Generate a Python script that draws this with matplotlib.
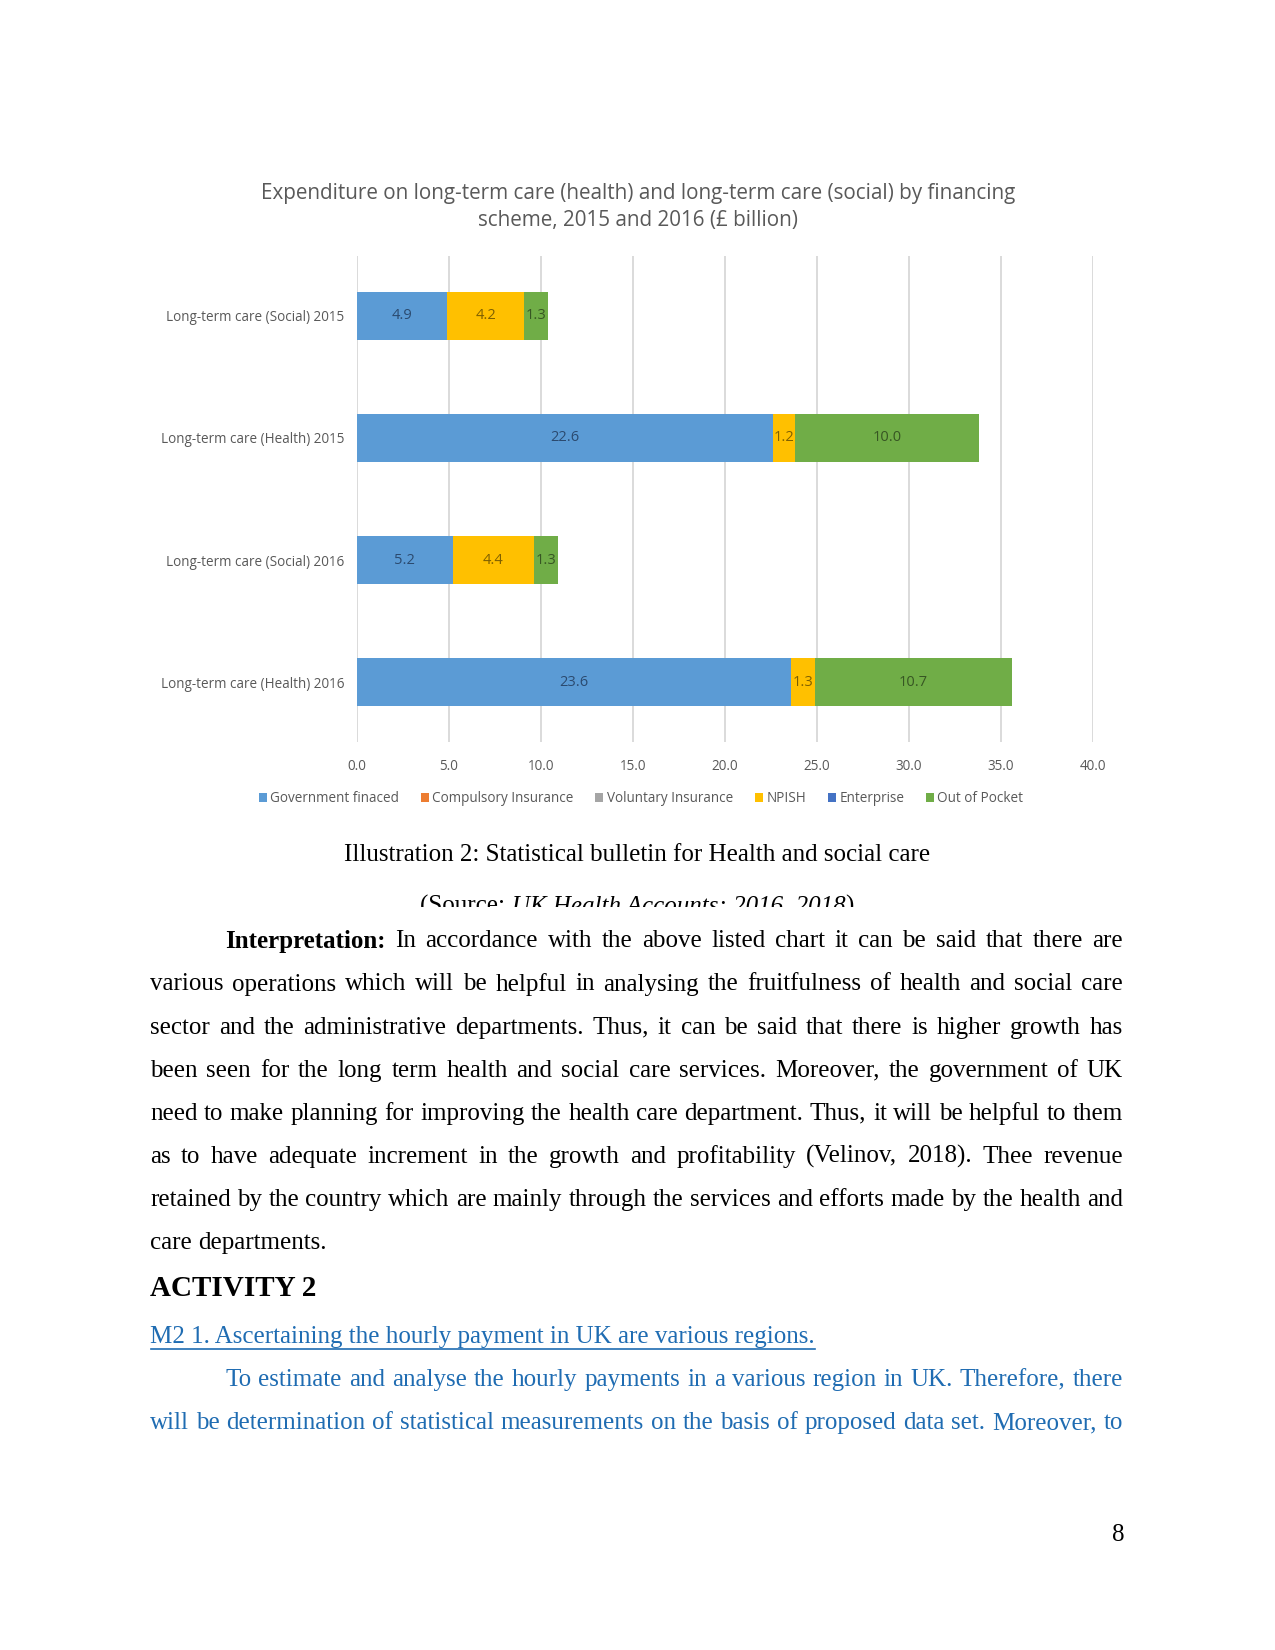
import numpy as np
import matplotlib.pyplot as plt
from matplotlib.patches import Patch
from matplotlib.lines import Line2D
from matplotlib.transforms import Bbox

# page size in pixels
W, H = 1275, 1650
DPI = 150

# chart data (£ billion)
categories = ['Long-term care (Social) 2015', 'Long-term care (Health) 2015',
              'Long-term care (Social) 2016', 'Long-term care (Health) 2016']
series = ['Government finaced', 'Compulsory Insurance', 'Voluntary Insurance',
          'NPISH', 'Enterprise', 'Out of Pocket']
government = [4.9, 22.6, 5.2, 23.6]
compulsory = [0, 0, 0, 0]
voluntary = [0, 0, 0, 0]
npish = [4.2, 1.2, 4.4, 1.3]
enterprise = [0, 0, 0, 0]
out_of_pocket = [1.3, 10.0, 1.3, 10.7]
xticks = [0, 5, 10, 15, 20, 25, 30, 35, 40]

colors = ['#5B9BD5', '#ED7D31', '#A5A5A5', '#FFC000', '#4472C4', '#70AD47']
label_colors = ['#2B4A6F', '#843C0C', '#525252', '#7F6000', '#203864', '#375623']

title = ('Expenditure on long-term care (health) and long-term care (social) by financing\n'
         'scheme, 2015 and 2016 (£ billion)')

para1 = [
    'Interpretation: In accordance with the above listed chart it can be said that there are',
    'various operations which will be helpful in analysing the fruitfulness of health and social care',
    'sector and the administrative departments. Thus, it can be said that there is higher growth has',
    'been seen for the long term health and social care services. Moreover, the government of UK',
    'need to make planning for improving the health care department. Thus, it will be helpful to them',
    'as to have adequate increment in the growth and profitability (Velinov, 2018). Thee revenue',
    'retained by the country which are mainly through the services and efforts made by the health and',
    'care departments.',
]
para2 = [
    'To estimate and analyse the hourly payments in a various region in UK. Therefore, there',
    'will be determination of statistical measurements on the basis of proposed data set. Moreover, to',
]

fig = plt.figure(figsize=(W / DPI, H / DPI), dpi=DPI)
renderer = fig.canvas.get_renderer()
serif = 'Liberation Serif'
sans = 'Open Sans'
blue_text = '#1F6CB2'
DY = 3  # small nudge so serif lines sit like the page


def put(x, y, s, **kw):
    # place text with pixel coords measured from the top-left of the page
    return fig.text(x / W, 1 - y / H, s, **kw)


def width_of(s, **kw):
    t = fig.text(0, 0, s, **kw)
    w = t.get_window_extent(renderer).width
    t.remove()
    return w


def draw_line(words, x0, x1, y, justify, color='black', size=12):
    widths = [width_of(w, family=serif, size=size, weight=fw) for w, fw in words]
    if justify and len(words) > 1:
        gap = (x1 - x0 - sum(widths)) / (len(words) - 1)
    else:
        gap = width_of('a a', family=serif, size=size) - width_of('aa', family=serif, size=size)
    x = x0
    for (w, fw), wd in zip(words, widths):
        put(x, y, w, family=serif, size=size, weight=fw, color=color, ha='left', va='center')
        x += wd + gap


def draw_paragraph(lines, y0, step, color='black', bold_first=False):
    for i, line in enumerate(lines):
        words = [(w, 'normal') for w in line.split()]
        if i == 0 and bold_first:
            words[0] = (words[0][0], 'bold')
        x0 = 225 if i == 0 else 150
        last = i == len(lines) - 1 and len(lines) > 2
        draw_line(words, x0, 1123, y0 + i * step, not last, color=color)


# ---- chart ----
put(638, 207, title, family=sans, size=9.9, color='#595959', ha='center', va='center',
    linespacing=1.38)

ax = fig.add_axes([357 / W, 1 - 742 / H, (1093 - 357) / W, (742 - 256) / H])
ypos = np.arange(len(categories))
left = np.zeros(len(categories))
for vals, name, col, tcol in zip([government, compulsory, voluntary, npish, enterprise, out_of_pocket],
                                 series, colors, label_colors):
    vals = np.array(vals, dtype=float)
    ax.barh(ypos, vals, left=left, height=0.39, color=col, label=name, zorder=2)
    for yi, v, l in zip(ypos, vals, left):
        if v > 0:
            ax.text(l + v / 2, yi, f'{v:.1f}', ha='center', va='center', color=tcol,
                    fontsize=7, family=sans, zorder=3)
    left += vals

ax.set_xlim(0, 40)
ax.set_ylim(3.49, -0.49)
ax.set_xticks(xticks)
ax.set_xticklabels([f'{t:.1f}' for t in xticks])
ax.set_yticks(ypos)
ax.set_yticklabels(categories)
ax.grid(axis='x', color='#D9D9D9', linewidth=0.9, zorder=0)
ax.set_axisbelow(True)
for s in ax.spines.values():
    s.set_visible(False)
ax.tick_params(axis='both', length=0, labelsize=6.5, colors='#595959')
ax.tick_params(axis='x', pad=8)
ax.tick_params(axis='y', pad=6)
for lab in ax.get_xticklabels() + ax.get_yticklabels():
    lab.set_family(sans)

handles = [Patch(facecolor=c, edgecolor='none') for c in colors]
leg = fig.legend(handles, series, loc='center', bbox_to_anchor=(641 / W, 1 - 799 / H), ncol=6,
                 frameon=False, prop={'family': sans, 'size': 6.5}, handlelength=0.6,
                 handleheight=0.6, handletextpad=0.25, columnspacing=1.6, labelcolor='#595959')

# ---- caption ----
put(637, 852 + DY, 'Illustration 2: Statistical bulletin for Health and social care', family=serif,
    size=12, ha='center', va='center')

# source line, cut off at the bottom like in the page
pieces = [('(Source: ', 'normal'), ('UK Health Accounts: 2016, 2018', 'italic'), (')', 'normal')]
pw = [width_of(p, family=serif, size=12, style=st) for p, st in pieces]
x = 637 - sum(pw) / 2
clip = Bbox.from_extents(0, H - 907, W, H)
for (p, st), wd in zip(pieces, pw):
    t = put(x, 903 + DY, p, family=serif, size=12, style=st, ha='left', va='center')
    t.set_clip_box(clip)
    t.set_clip_on(True)
    x += wd

# ---- body text ----
draw_paragraph(para1, 938.4 + DY, 43.1, bold_first=True)

put(150, 1286 + DY, 'ACTIVITY 2', family=serif, size=14, weight='bold', ha='left', va='center')

link = 'M2 1. Ascertaining the hourly payment in UK are various regions.'
put(150, 1334 + DY, link, family=serif, size=12, color=blue_text, ha='left', va='center')
lw = width_of(link, family=serif, size=12)
fig.add_artist(Line2D([151 / W, (150 + lw) / W], [1 - (1346 + DY) / H, 1 - (1346 + DY) / H],
                      color=blue_text, linewidth=0.8))

draw_paragraph(para2, 1377 + DY, 43.1, color=blue_text)

put(1118, 1532 + DY, '8', family=serif, size=12, ha='center', va='center')

fig.savefig('out.png', dpi=DPI, facecolor='white')
